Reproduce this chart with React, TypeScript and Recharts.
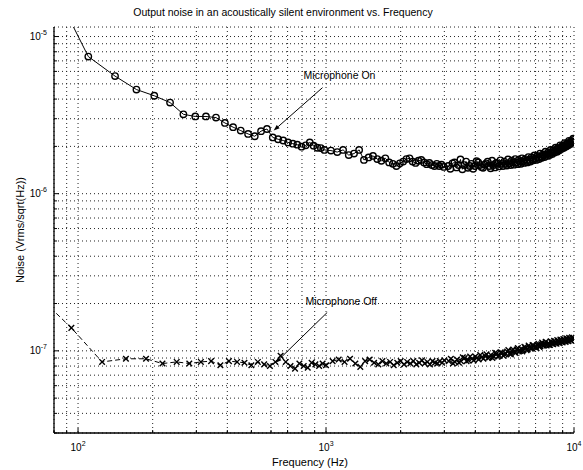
import React from 'react';
import { ComposedChart, Line, XAxis, YAxis, CartesianGrid, ReferenceLine, Label } from 'recharts';

// ---------- data ----------
// Microphone On: frequency (Hz) and noise (µVrms/√Hz)
const onFreq = [
  78, 110, 141, 172, 203, 235, 266, 297, 328, 360, 391, 422, 453, 485, 516, 547, 578, 610, 641, 672,
  703, 735, 766, 797, 828, 860, 891, 922, 953, 985,
  1047, 1110, 1172, 1235, 1297, 1360, 1422, 1485, 1547, 1610, 1672, 1735, 1797, 1860, 1922, 1985,
  2047, 2110, 2172, 2235, 2297, 2360, 2422, 2485, 2547, 2610, 2672, 2735, 2797, 2860, 2922, 2985,
  3110, 3235, 3360, 3485, 3610, 3735, 3860, 3985, 4110, 4235, 4360, 4485, 4610, 4735, 4860, 4985,
  5110, 5235, 5360, 5485, 5610, 5735, 5860, 5985, 6110, 6235, 6360, 6485, 6610, 6735, 6860, 6985,
  7110, 7235, 7360, 7485, 7610, 7735, 7860, 7985, 8110, 8235, 8360, 8485, 8610, 8735, 8860, 8985,
  9110, 9235, 9360, 9485, 9610, 9735, 9860, 9985,
];
const onNoise = [
  22, 7.46, 5.6, 4.6, 4.2, 3.8, 3.2, 3.1, 3.1, 3.05, 2.82, 2.65, 2.52, 2.40, 2.32, 2.50, 2.58, 2.28, 2.22, 2.18,
  2.12, 2.08, 2.05, 1.99, 2.03, 2.12, 2.02, 1.96, 1.95, 1.90,
  1.88, 1.84, 1.90, 1.76, 1.80, 1.90, 1.64, 1.70, 1.74, 1.66, 1.62, 1.68, 1.58, 1.55, 1.50, 1.56,
  1.60, 1.66, 1.68, 1.60, 1.57, 1.62, 1.64, 1.58, 1.54, 1.57, 1.52, 1.50, 1.55, 1.50, 1.53, 1.48,
  1.50, 1.56, 1.47, 1.65, 1.52, 1.46, 1.55, 1.50, 1.58, 1.48, 1.53, 1.60, 1.45, 1.52, 1.57, 1.49,
  1.55, 1.60, 1.51, 1.56, 1.62, 1.53, 1.58, 1.64, 1.55, 1.61, 1.66, 1.58, 1.64, 1.70, 1.63, 1.68,
  1.74, 1.66, 1.72, 1.78, 1.71, 1.77, 1.83, 1.76, 1.82, 1.89, 1.83, 1.90, 1.95, 1.89, 1.97, 2.02,
  1.96, 2.04, 2.09, 2.03, 2.11, 2.16, 2.12, 2.20,
];
// extra On readings in the dense 3–10 kHz band
const onFreqDense = [
  3172, 3297, 3422, 3547, 3672, 3797, 3922, 4047, 4172, 4297, 4422, 4547, 4672, 4797, 4922,
  5047, 5172, 5297, 5422, 5547, 5672, 5797, 5922, 6047, 6172, 6297, 6422, 6547, 6672, 6797, 6922,
  7047, 7172, 7297, 7422, 7547, 7672, 7797, 7922, 8047, 8172, 8297, 8422, 8547, 8672, 8797, 8922,
  9047, 9172, 9297, 9422, 9547, 9672, 9797, 9922,
];
const onNoiseDense = [
  1.44, 1.58, 1.52, 1.43, 1.60, 1.50, 1.44, 1.61, 1.52, 1.46, 1.56, 1.50, 1.62, 1.47, 1.55,
  1.63, 1.50, 1.55, 1.65, 1.52, 1.58, 1.66, 1.54, 1.60, 1.68, 1.57, 1.62, 1.71, 1.60, 1.66, 1.75,
  1.64, 1.70, 1.80, 1.69, 1.76, 1.85, 1.74, 1.80, 1.90, 1.79, 1.86, 1.96, 1.85, 1.92, 2.03, 1.93,
  2.00, 2.10, 2.00, 2.07, 2.17, 2.07, 2.14, 2.24,
];

// Microphone Off: frequency (Hz) and noise (x1e-8 Vrms/√Hz)
const offFreq = [
  62.5, 94, 125, 156, 188, 219, 250, 281, 313, 344, 375, 406, 438, 469, 500, 531, 563, 594, 625, 656,
  688, 719, 750, 781, 813, 844, 875, 906, 938, 969, 1000,
  1063, 1125, 1188, 1250, 1313, 1375, 1438, 1500, 1563, 1625, 1688, 1750, 1813, 1875, 1938, 2000,
  2063, 2125, 2188, 2250, 2313, 2375, 2438, 2500, 2563, 2625, 2688, 2750, 2813, 2875, 2938, 3000,
  3125, 3250, 3375, 3500, 3625, 3750, 3875, 4000, 4125, 4250, 4375, 4500, 4625, 4750, 4875, 5000,
  5125, 5250, 5375, 5500, 5625, 5750, 5875, 6000, 6125, 6250, 6375, 6500, 6625, 6750, 6875, 7000,
  7125, 7250, 7375, 7500, 7625, 7750, 7875, 8000, 8125, 8250, 8375, 8500, 8625, 8750, 8875, 9000,
  9125, 9250, 9375, 9500, 9625, 9750, 9875, 10000,
];
const offNoise = [
  26, 14.0, 8.5, 8.9, 8.9, 8.3, 8.5, 8.3, 8.5, 8.6, 8.1, 8.6, 8.5, 8.4, 8.1, 8.5, 8.2, 8.0, 8.5, 9.3,
  8.5, 8.0, 7.7, 8.3, 8.0, 7.8, 8.4, 8.2, 8.0, 8.3, 8.1,
  8.6, 8.8, 8.5, 8.9, 8.3, 7.9, 8.6, 8.8, 8.4, 8.2, 8.6, 8.3, 8.5, 8.1, 8.4, 8.6,
  8.2, 8.5, 8.3, 8.6, 8.2, 8.4, 8.7, 8.3, 8.5, 8.2, 8.6, 8.4, 8.3, 8.6, 8.4, 8.7,
  8.6, 8.3, 8.8, 8.6, 9.0, 8.7, 8.9, 9.2, 8.8, 9.1, 9.3, 9.0, 9.4, 9.2, 9.6, 9.3,
  9.7, 9.5, 9.9, 9.6, 10.0, 9.8, 10.2, 9.9, 10.3, 10.1, 10.5, 10.2, 10.6, 10.4, 10.8, 10.5,
  10.9, 10.6, 11.0, 10.8, 11.1, 10.8, 11.2, 10.9, 11.3, 11.0, 11.4, 11.1, 11.5, 11.2, 11.6, 11.3,
  11.7, 11.4, 11.8, 11.5, 11.9, 11.6, 12.0, 11.8,
];
// extra Off readings in the dense 3–10 kHz band
const offFreqDense = [
  3187, 3312, 3437, 3562, 3687, 3812, 3937, 4062, 4187, 4312, 4437, 4562, 4687, 4812, 4937,
  5062, 5187, 5312, 5437, 5562, 5687, 5812, 5937, 6062, 6187, 6312, 6437, 6562, 6687, 6812, 6937,
  7062, 7187, 7312, 7437, 7562, 7687, 7812, 7937, 8062, 8187, 8312, 8437, 8562, 8687, 8812, 8937,
  9062, 9187, 9312, 9437, 9562, 9687, 9812, 9937,
];
const offNoiseDense = [
  8.9, 8.5, 8.4, 9.1, 8.6, 9.2, 8.7, 9.0, 9.4, 8.9, 9.5, 9.1, 9.0, 9.7, 9.2,
  9.8, 9.3, 9.6, 10.1, 9.5, 10.2, 9.7, 10.4, 10.0, 9.9, 10.6, 10.1, 10.8, 10.3, 10.9, 10.6,
  10.4, 11.1, 10.7, 11.3, 10.8, 11.4, 11.0, 10.9, 11.5, 11.1, 11.6, 11.2, 11.7, 11.3, 11.8, 11.4,
  11.9, 11.5, 12.0, 11.6, 12.1, 11.7, 12.2, 11.9,
];

// tick values (grid lines at every log step)
const xTicks = [80, 90, 100, 200, 300, 400, 500, 600, 700, 800, 900, 1000, 2000, 3000, 4000, 5000, 6000, 7000, 8000, 9000, 10000];
const yTicks = [
  3e-8, 4e-8, 5e-8, 6e-8, 7e-8, 8e-8, 9e-8,
  1e-7, 2e-7, 3e-7, 4e-7, 5e-7, 6e-7, 7e-7, 8e-7, 9e-7,
  1e-6, 2e-6, 3e-6, 4e-6, 5e-6, 6e-6, 7e-6, 8e-6, 9e-6, 1e-5,
];
const xDomain = [80, 10000];
const yDomain = [3e-8, 1.15e-5];

// annotation arrows: [start, tip] in data coordinates
const onArrow = [{ x: 968, y: 4.73e-6 }, { x: 615, y: 2.52e-6 }];
const offArrow = [{ x: 1011, y: 1.754e-7 }, { x: 626, y: 8.39e-8 }];

const TITLE = 'Output noise in an acoustically silent environment vs. Frequency';
const X_LABEL = 'Frequency (Hz)';
const Y_LABEL = 'Noise (Vrms/sqrt(Hz))';

const byF = (a: { f: number }, b: { f: number }) => a.f - b.f;
const onData = [
  ...onFreq.map((f, i) => ({ f, v: onNoise[i] * 1e-6 })),
  ...onFreqDense.map((f, i) => ({ f, v: onNoiseDense[i] * 1e-6 })),
].sort(byF);
const offData = [
  ...offFreq.map((f, i) => ({ f, v: offNoise[i] * 1e-8 })),
  ...offFreqDense.map((f, i) => ({ f, v: offNoiseDense[i] * 1e-8 })),
].sort(byF);

const FONT = '"Liberation Sans", Arial, Helvetica, sans-serif';

const isDecade = (v: number) => {
  const lg = Math.log10(v);
  return Math.abs(lg - Math.round(lg)) < 1e-6;
};

const XTick = (props: any) => {
  const { x, y, payload } = props;
  const v = payload.value;
  const major = isDecade(v);
  const e = Math.round(Math.log10(v));
  return (
    <g>
      <line x1={x} x2={x} y1={y} y2={y - (major ? 5 : 3)} stroke="#000" strokeWidth={1} />
      {major && (
        <text x={x} y={y + 18} textAnchor="middle" fontSize={10} fontFamily={FONT} fill="#000">
          10<tspan dy={-5} fontSize={7}>{e}</tspan>
        </text>
      )}
    </g>
  );
};

const YTick = (props: any) => {
  const { x, y, payload } = props;
  const v = payload.value;
  const major = isDecade(v);
  const e = Math.round(Math.log10(v));
  return (
    <g>
      <line x1={x} x2={x + (major ? 5 : 3)} y1={y} y2={y} stroke="#000" strokeWidth={1} />
      {major && (
        <text x={x - 7} y={y + 3.5} textAnchor="end" fontSize={10} fontFamily={FONT} fill="#000">
          10<tspan dy={-5} fontSize={7}>{e}</tspan>
        </text>
      )}
    </g>
  );
};

const CircleDot = (p: any) => {
  const { cx, cy, index } = p;
  if (cx == null || cy == null) return <g key={index} />;
  return <circle key={index} cx={cx} cy={cy} r={3.2} fill="none" stroke="#000" strokeWidth={1.4} />;
};

const CrossDot = (p: any) => {
  const { cx, cy, index } = p;
  if (cx == null || cy == null) return <g key={index} />;
  const s = 2.8;
  return (
    <path
      key={index}
      d={`M${cx - s},${cy - s}L${cx + s},${cy + s}M${cx - s},${cy + s}L${cx + s},${cy - s}`}
      stroke="#000"
      strokeWidth={1.4}
      fill="none"
    />
  );
};

const makeArrow = (label: string, dx: number, dy: number) => (p: any) => {
  const { x1, y1, x2, y2 } = p;
  if ([x1, y1, x2, y2].some((n) => n == null || isNaN(n))) return <g />;
  const ang = Math.atan2(y2 - y1, x2 - x1);
  const L = 6;
  const W = 2.2;
  const bx = x2 - L * Math.cos(ang);
  const by = y2 - L * Math.sin(ang);
  const px = -Math.sin(ang) * W;
  const py = Math.cos(ang) * W;
  return (
    <g>
      <line x1={x1} y1={y1} x2={bx} y2={by} stroke="#000" strokeWidth={1} />
      <polygon points={`${x2},${y2} ${bx + px},${by + py} ${bx - px},${by - py}`} fill="#000" />
      <text x={x1 + dx} y={y1 + dy} textAnchor="middle" fontSize={10.5} fontFamily={FONT} fill="#000">
        {label}
      </text>
    </g>
  );
};

export default function App() {
  return (
    <div style={{ position: 'absolute', left: 0, top: 0, width: 583, height: 470, background: '#fff' }}>
      <div
        style={{
          position: 'absolute',
          left: 23,
          width: 520,
          top: 6,
          textAlign: 'center',
          fontFamily: FONT,
          fontSize: 10.5,
          lineHeight: '13px',
          color: '#000',
        }}
      >
        {TITLE}
      </div>
      <ComposedChart width={583} height={470} margin={{ top: 27, right: 9, bottom: 0, left: 0 }}>
        <CartesianGrid stroke="#222" strokeDasharray="1 3" strokeWidth={1} />
        <XAxis
          dataKey="f"
          type="number"
          scale="log"
          domain={xDomain}
          allowDataOverflow
          ticks={xTicks}
          interval={0}
          tick={<XTick />}
          tickSize={0}
          tickMargin={0}
          tickLine={false}
          height={37}
          axisLine={{ stroke: '#000', strokeWidth: 1.3 }}
        >
          <Label
            content={(p: any) => {
              const vb = p.viewBox;
              return (
                <text
                  x={vb.x + vb.width / 2 - 4}
                  y={vb.y + 33}
                  textAnchor="middle"
                  fontSize={11}
                  fontFamily={FONT}
                  fill="#000"
                >
                  {X_LABEL}
                </text>
              );
            }}
          />
        </XAxis>
        <YAxis
          dataKey="v"
          type="number"
          scale="log"
          domain={yDomain}
          allowDataOverflow
          ticks={yTicks}
          interval={0}
          tick={<YTick />}
          tickSize={0}
          tickMargin={0}
          tickLine={false}
          width={54}
          axisLine={{ stroke: '#000', strokeWidth: 1.3 }}
        >
          <Label
            content={(p: any) => {
              const vb = p.viewBox;
              const cx = vb.x + 20;
              const cy = vb.y + vb.height / 2;
              return (
                <text
                  transform={`translate(${cx}, ${cy}) rotate(-90)`}
                  textAnchor="middle"
                  dominantBaseline="central"
                  fontSize={11}
                  fontFamily={FONT}
                  fill="#000"
                >
                  {Y_LABEL}
                </text>
              );
            }}
          />
        </YAxis>
        <Line
          data={onData}
          dataKey="v"
          type="linear"
          stroke="#000"
          strokeWidth={1}
          dot={CircleDot}
          activeDot={false}
          isAnimationActive={false}
        />
        <Line
          data={offData}
          dataKey="v"
          type="linear"
          stroke="#000"
          strokeWidth={1}
          strokeDasharray="5 3"
          dot={CrossDot}
          activeDot={false}
          isAnimationActive={false}
        />
        <ReferenceLine segment={onArrow} shape={makeArrow('Microphone On', 17, -8.5)} ifOverflow="visible" />
        <ReferenceLine segment={offArrow} shape={makeArrow('Microphone Off', 14, -7)} ifOverflow="visible" />
      </ComposedChart>
    </div>
  );
}
